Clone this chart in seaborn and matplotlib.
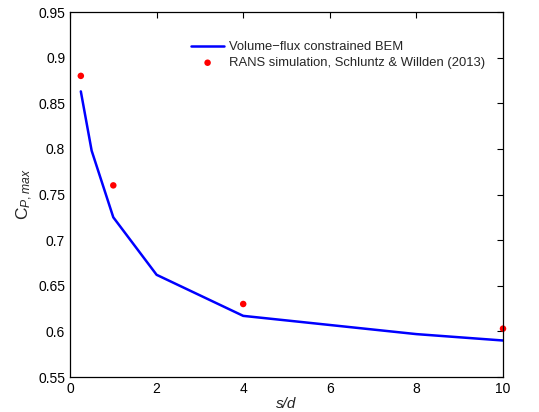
import seaborn as sns
import matplotlib.pyplot as plt
import pandas as pd

# BEM curve (volume-flux constrained)
bem_sd = [0.25, 0.5, 1, 2, 4, 6, 8, 10]
bem_cp = [0.863, 0.798, 0.725, 0.662, 0.617, 0.607, 0.597, 0.590]

# RANS points, Schluntz & Willden (2013)
rans_sd = [0.25, 1, 4, 10]
rans_cp = [0.880, 0.760, 0.630, 0.603]

sns.set_style("white")
plt.rcParams['font.family'] = ['Liberation Sans', 'DejaVu Sans']
plt.rcParams['mathtext.fontset'] = 'custom'
plt.rcParams['mathtext.rm'] = 'Liberation Sans'
plt.rcParams['mathtext.it'] = 'Liberation Sans:italic'
plt.rcParams['font.size'] = 10

bem = pd.DataFrame({"sd": bem_sd, "cp": bem_cp})
rans = pd.DataFrame({"sd": rans_sd, "cp": rans_cp})

fig = plt.figure(figsize=(5.39, 4.12), dpi=100)
ax = fig.add_axes([70 / 539, 1 - 377 / 412, 433 / 539, 365 / 412])

sns.lineplot(data=bem, x="sd", y="cp", ax=ax, color="#0000ff", lw=1.8,
             label="Volume\u2212flux constrained BEM")
sns.scatterplot(data=rans, x="sd", y="cp", ax=ax, color="#ff0000", s=22,
                edgecolor="none", clip_on=False,
                label="RANS simulation, Schluntz & Willden (2013)")

ax.set_xlim(0, 10)
ax.set_ylim(0.55, 0.95)
ax.set_xticks([0, 2, 4, 6, 8, 10])
ax.set_yticks([0.55, 0.6, 0.65, 0.7, 0.75, 0.8, 0.85, 0.9, 0.95])
ax.set_yticklabels(["0.55", "0.6", "0.65", "0.7", "0.75", "0.8", "0.85", "0.9", "0.95"])
ax.tick_params(direction="in", top=True, right=True, length=4, width=0.8,
               labelsize=10, colors="black")
for sp in ax.spines.values():
    sp.set_color("black")
    sp.set_linewidth(0.9)

ax.set_xlabel("s/d", fontstyle="italic", fontsize=11, labelpad=1)
ax.set_ylabel(r"$\mathrm{C}_{P,max}$", fontsize=12.5, labelpad=2)

ax.legend(loc="upper left", bbox_to_anchor=(0.268, 0.935), frameon=False,
          fontsize=9.4, handlelength=2.5, handletextpad=0.4, labelspacing=0.3,
          borderaxespad=0)

fig.savefig("out.png", dpi=100)
